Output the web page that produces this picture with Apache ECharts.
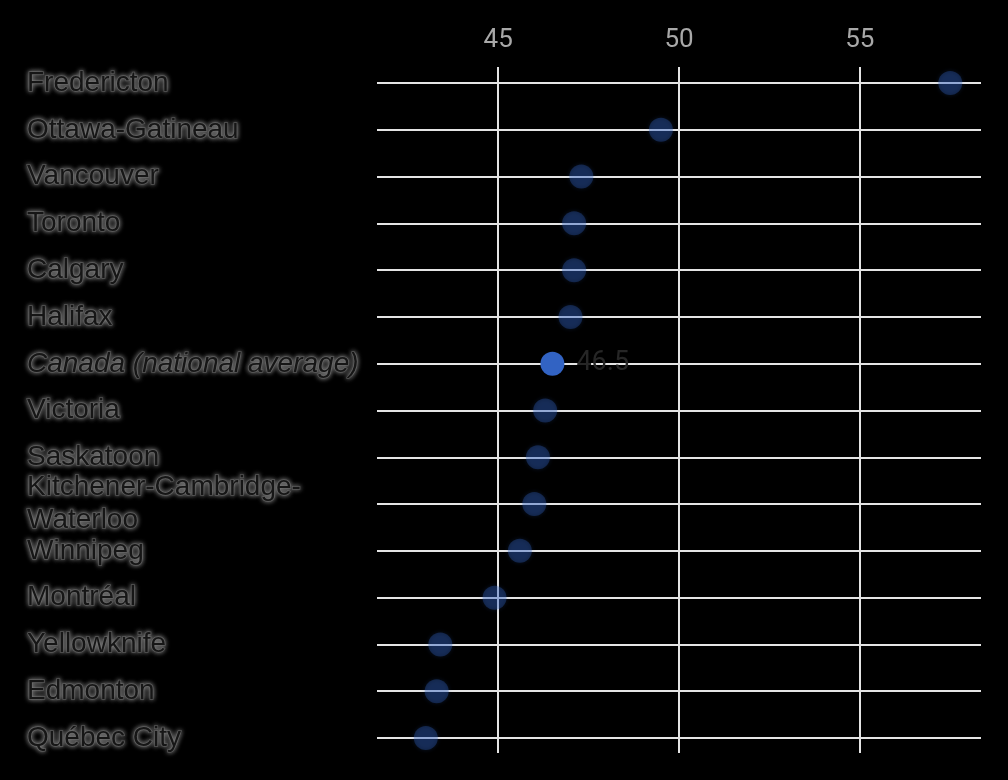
<!DOCTYPE html>
<html>
<head>
<meta charset="utf-8">
<script src="https://cdn.jsdelivr.net/npm/echarts@6/dist/echarts.min.js"></script>
<style>
html,body{margin:0;padding:0;background:#000;}
#chart{width:1008px;height:780px;}
</style>
</head>
<body>
<div id="chart"></div>
<script>
const cities = ["Fredericton","Ottawa-Gatineau","Vancouver","Toronto","Calgary","Halifax","Canada (national average)","Victoria","Saskatoon","Kitchener-Cambridge-Waterloo","Winnipeg","Montréal","Yellowknife","Edmonton","Québec City"];
const values = [57.5,49.5,47.3,47.1,47.1,47.0,46.5,46.3,46.1,46.0,45.6,44.9,43.4,43.3,43.0];
const highlightCity = "Canada (national average)";
const xTicks = [45,50,55];

const lineColor = '#e4e4e4';
const dotColor = '#3263c3';
const glow = {
  textShadowColor:'rgba(160,160,160,0.85)', textShadowBlur:5,
  textBorderColor:'rgba(85,85,85,0.85)', textBorderWidth:1.5
};

const chart = echarts.init(document.getElementById('chart'));
const seriesData = cities.map((c,i)=>{
  const item = {value:[values[i], c]};
  if (c === highlightCity) {
    item.itemStyle = {opacity:1, shadowBlur:0};
    item.label = {show:true};
  }
  return item;
});

chart.setOption({
  backgroundColor:'#000',
  animation:false,
  grid:{left:377, right:27, top:83, bottom:42, containLabel:false, outerBoundsMode:'none'},
  xAxis:[{
    type:'value', position:'top', min:41.65, max:58.35,
    axisLine:{show:false},
    axisTick:{show:true, length:16, customValues:xTicks, lineStyle:{color:lineColor, width:2}},
    axisLabel:{customValues:xTicks, color:'#a8a8a8', fontSize:26, fontFamily:'Roboto', margin:30},
    splitLine:{show:false}
  },{
    type:'value', position:'bottom', min:41.65, max:58.35,
    axisLine:{show:false},
    axisTick:{show:true, length:15, customValues:xTicks, lineStyle:{color:lineColor, width:2}},
    axisLabel:{show:false},
    splitLine:{show:false}
  }],
  yAxis:{
    type:'category', data:cities, inverse:true, boundaryGap:false,
    axisLine:{show:false}, axisTick:{show:false},
    splitLine:{show:true, lineStyle:{color:lineColor, width:2}},
    axisLabel:{
      align:'left', margin:350, color:'#161616', fontSize:28, fontFamily:'Liberation Sans',
      lineHeight:33, ...glow,
      formatter:(v)=> v === highlightCity ? '{it|'+v+'}' : v.replace('Cambridge-','Cambridge-\n'),
      rich:{it:{fontStyle:'italic', color:'#161616', fontSize:28, fontFamily:'Liberation Sans', ...glow}}
    }
  },
  series:[{
    type:'scatter', xAxisIndex:0, symbolSize:24, data:seriesData, z:3,
    itemStyle:{color:dotColor, opacity:0.32, shadowBlur:4, shadowColor:'rgba(50,99,195,0.6)'},
    label:{show:false, position:'right', distance:12, color:'#262626', fontSize:27, fontFamily:'Roboto',
      formatter:(p)=>p.value[0].toFixed(1)},
    emphasis:{disabled:true},
    markLine:{
      silent:true, symbol:'none', z:1,
      label:{show:false},
      lineStyle:{color:lineColor, width:2, type:'solid'},
      data:xTicks.map(t=>({xAxis:t}))
    }
  }]
});
</script>
</body>
</html>
